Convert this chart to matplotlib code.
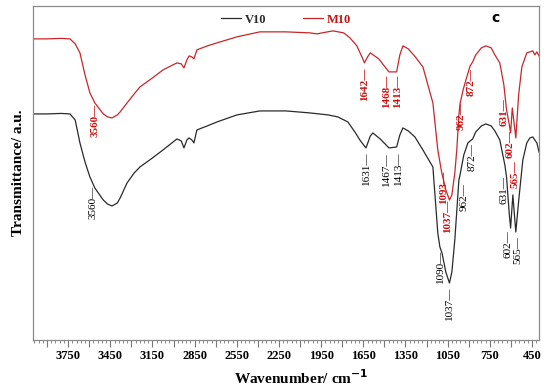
import matplotlib
matplotlib.use('Agg')
import matplotlib.pyplot as plt
from matplotlib.ticker import MultipleLocator, FixedLocator, FuncFormatter

# FTIR spectra, transmittance in arbitrary units
wn_v10 = [4000, 3900, 3800, 3737, 3700, 3666, 3630, 3595, 3560, 3500, 3470, 3438, 3400, 3380, 3331,
          3280, 3239, 3150, 3075, 2976, 2945, 2926, 2905, 2890, 2870, 2855, 2834, 2760, 2691, 2549,
          2386, 2200, 2030, 1900, 1831, 1760, 1710, 1670, 1631, 1600, 1582, 1530, 1467, 1413, 1390,
          1368, 1330, 1283, 1226, 1155, 1120, 1105, 1090, 1063, 1037, 1020, 999, 970, 962, 935,
          906, 872, 850, 810, 778, 740, 714, 679, 643, 631, 611, 602, 586, 565, 544,
          515, 487, 465, 444, 430, 415, 400]
t_v10 = [226, 226, 226.5, 226, 220, 197, 178, 163, 152, 140, 136, 134, 137, 142, 157,
         167, 173, 182, 190, 201, 199, 192, 200, 202, 200, 197, 210, 214, 218, 225,
         229, 229, 227, 225, 223, 218, 208, 199, 192, 204, 207, 201, 192, 193, 205,
         212, 209, 203, 190, 173, 107, 93, 87, 68, 57, 68, 100, 160, 165, 185,
         197, 201, 208, 214, 216, 214, 209, 200, 175, 163, 125, 112, 145, 108, 140,
         180, 197, 202, 203, 200, 197, 188]

wn_m10 = [4000, 3900, 3800, 3737, 3700, 3666, 3630, 3595, 3560, 3500, 3470, 3438, 3400, 3380, 3331,
          3280, 3239, 3150, 3075, 2976, 2945, 2926, 2905, 2890, 2870, 2855, 2834, 2760, 2691, 2549,
          2386, 2200, 2030, 1980, 1866, 1790, 1745, 1696, 1660, 1642, 1620, 1600, 1540, 1468, 1413,
          1390, 1368, 1330, 1280, 1226, 1155, 1120, 1093, 1063, 1037, 1020, 999, 985, 970, 962,
          940, 920, 890, 872, 850, 810, 778, 740, 714, 679, 650, 631, 611, 602, 590,
          565, 545, 522, 487, 465, 444, 430, 415, 400]
t_m10 = [301, 301, 301.5, 301, 296, 287, 265, 247, 237, 226, 223, 222, 225, 228, 237,
         246, 253, 262, 270, 277, 276, 272, 280, 284, 283, 281, 290, 294, 297, 303,
         308, 308, 307, 306, 309, 307, 302, 294, 283, 277, 283, 287, 281, 268, 268,
         285, 294, 291, 283, 273, 237, 190, 168, 150, 140, 145, 167, 190, 225, 236,
         250, 260, 274, 278, 285, 292, 294, 292, 285, 277, 255, 230, 215, 207, 232,
         202, 245, 273, 287, 288, 289, 285, 288, 284]

# peak labels: (wavenumber of label, top of label in a.u., text)
peaks_v10 = [(3570, 154, '3560'), (1625, 188, '1631'), (1482, 188, '1467'), (1403, 188, '1413'),
             (1100, 90, '1090'), (1037, 53, '1037'), (935, 157, '962'), (878, 197, '872'),
             (650, 164, '631'), (622, 110, '602'), (550, 104, '565')]
peaks_m10 = [(3560, 236, '3560'), (1642, 272, '1642'), (1482, 265, '1468'), (1405, 265, '1413'),
             (1080, 169, '1093'), (1050, 140, '1037'), (950, 238, '962'), (880, 272, '872'),
             (645, 242, '631'), (608, 210, '602'), (573, 180, '565')]

black = '#2a2a2a'
red = '#c8262a'
label_red = '#cc1111'
serif = 'Liberation Serif'

fig = plt.figure(figsize=(5.5, 3.9), dpi=100)
ax = fig.add_axes([0.06, 0.128, 0.92, 0.857])

ax.plot(wn_v10, t_v10, color=black, lw=0.9, label='V10')
ax.plot(wn_m10, t_m10, color=red, lw=0.9, label='M10')

for wn, y, txt in peaks_v10:
    ax.text(wn, y, txt + '\u2014', rotation=90, ha='center', va='top', color='black',
            fontsize=8, family=serif)
for wn, y, txt in peaks_m10:
    ax.text(wn, y, txt + '\u2014', rotation=90, ha='center', va='top', color=label_red,
            fontsize=8, family=serif, fontweight='bold')

ax.set_xlim(4000, 400)
ax.set_ylim(0, 334)

ax.xaxis.set_major_locator(FixedLocator(list(range(450, 4000, 150))))
ax.xaxis.set_minor_locator(MultipleLocator(30))
ax.xaxis.set_major_formatter(FuncFormatter(lambda v, p: str(int(v)) if (int(v) - 450) % 300 == 0 else ''))
ax.tick_params(axis='x', which='major', length=5, width=0.8, color='#777777', labelsize=9, pad=2)
ax.tick_params(axis='x', which='minor', length=2.5, width=0.6, color='#777777')
for lab in ax.get_xticklabels():
    lab.set_fontfamily(serif)
    lab.set_fontweight('bold')
ax.set_yticks([])

for sp in ax.spines.values():
    sp.set_color('#8a8a8a')
    sp.set_linewidth(0.9)

ax.set_xlabel('Wavenumber/ cm$^{\\mathbf{-1}}$', fontsize=11, fontweight='bold', family=serif, labelpad=6)
ax.xaxis.set_label_coords(0.53, -0.085)
ax.set_ylabel('Transmittance/ a.u.', fontsize=11, fontweight='bold', family=serif, labelpad=6)

leg = ax.legend(loc='upper center', bbox_to_anchor=(0.5, 1.01), ncol=2, frameon=False,
                handlelength=1.6, handletextpad=0.3, columnspacing=3.0,
                prop={'family': serif, 'weight': 'bold', 'size': 9})
for t, c in zip(leg.get_texts(), [black, label_red]):
    t.set_color(c)

ax.text(0.915, 0.965, 'c', transform=ax.transAxes, fontsize=10, fontweight='bold',
        ha='center', va='center', family='DejaVu Sans')

fig.savefig('out.png', dpi=100)
